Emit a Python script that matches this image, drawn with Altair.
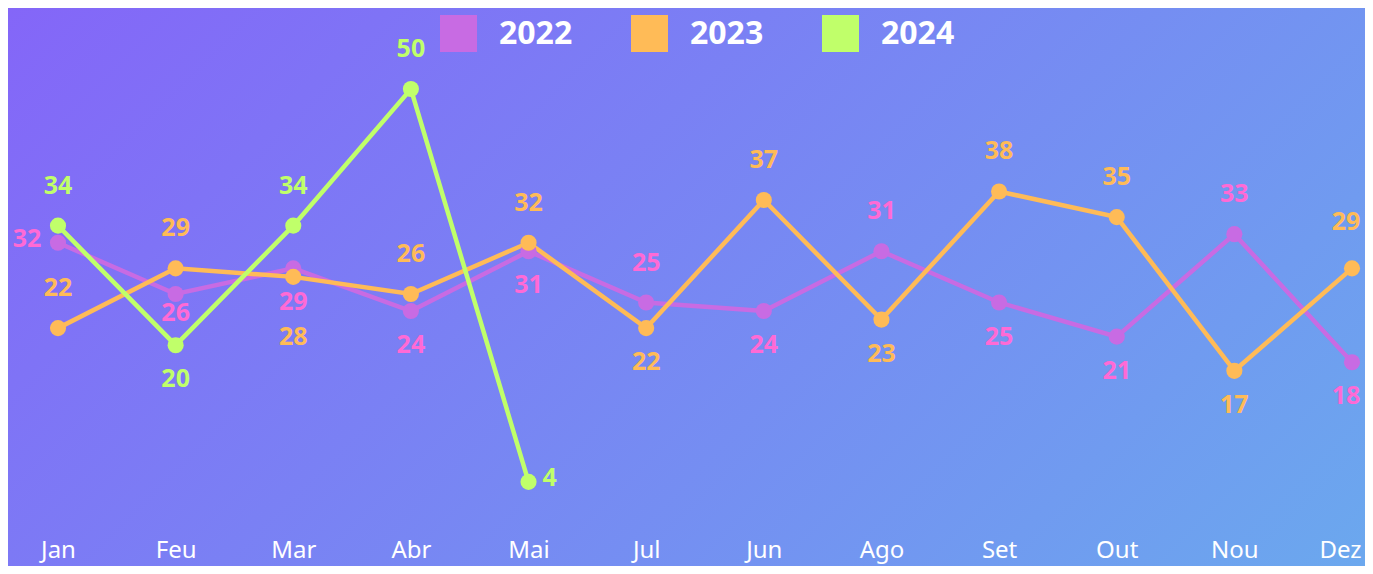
import altair as alt
import pandas as pd

months = ["Jan", "Feu", "Mar", "Abr", "Mai", "Jul", "Jun", "Ago", "Set", "Out", "Nou", "Dez"]
years = ["2022", "2023", "2024"]
v2022 = [32, 26, 29, 24, 31, 25, 24, 31, 25, 21, 33, 18]
v2023 = [22, 29, 28, 26, 32, 22, 37, 23, 38, 35, 17, 29]
v2024 = [34, 20, 34, 50, 4]
# label placement per point: t=above, b=below, bn=just below, bb=far below, l=left, r=right,
# te/be = above/below at the right edge (nudged inward)
pos2022 = ["l", "bn", "b", "b", "b", "t", "b", "t", "b", "b", "t", "be"]
pos2023 = ["t", "t", "bb", "t", "t", "b", "t", "b", "t", "t", "b", "te"]
pos2024 = ["t", "b", "t", "t", "r"]

line_colors = ["#c86be3", "#ffbb57", "#c0ff6a"]
label_colors = ["#ff6ad5", "#ffbb57", "#c0ff6a"]

rows = []
for yr, vals, poss in [("2022", v2022, pos2022), ("2023", v2023, pos2023), ("2024", v2024, pos2024)]:
    for m, v, p in zip(months, vals, poss):
        rows.append({"month": m, "year": yr, "value": v, "pos": p})
df = pd.DataFrame(rows)

W, H = 1294, 427
PL, PT, PR, PB = 50, 81, 13, 50

x_enc = alt.X("month:N", sort=months, scale=alt.Scale(type="point", padding=0),
              axis=alt.Axis(title=None, labelAngle=0, domain=False, ticks=False, grid=False,
                            labelFontSize=24, labelColor="white", labelFont="Noto Sans",
                            labelPadding=22, labelFontWeight="normal", zindex=2,
                            labelOffset={"condition": {"test": "datum.value == 'Dez'", "value": -12}, "value": 0}))
y_enc = alt.Y("value:Q", scale=alt.Scale(domain=[0, 50], nice=False), axis=None)

grad = alt.Gradient(
    gradient="linear",
    stops=[alt.GradientStop(color="#8466f8", offset=0), alt.GradientStop(color="#6ba8ee", offset=1)],
    x1=0, y1=0, x2=1.208, y2=0.497,
)

bg = alt.Chart(pd.DataFrame({"a": [0]})).mark_rect(fill=grad).encode(
    x=alt.value(-PL), x2=alt.value(W + PR), y=alt.value(-PT), y2=alt.value(H + PB)
)

base = alt.Chart(df).encode(x=x_enc, y=y_enc)

lines = base.mark_line(strokeWidth=4.5).encode(
    color=alt.Color("year:N", scale=alt.Scale(domain=years, range=line_colors), legend=None),
    order=alt.Order("year:N"),
)
points = base.mark_circle(size=260, opacity=1).encode(
    color=alt.Color("year:N", scale=alt.Scale(domain=years, range=line_colors),
                    legend=alt.Legend(title=None, orient="none", legendX=382, legendY=-74,
                                      direction="horizontal", symbolType="square",
                                      symbolSize=1369, symbolStrokeWidth=0,
                                      labelFontSize=32, labelFont="Noto Sans",
                                      labelFontWeight="bold", labelColor="white",
                                      labelOffset=22, columnPadding=58,
                                      symbolOpacity=1, zindex=2))
)

label_color = alt.Color("year:N", scale=alt.Scale(domain=years, range=label_colors), legend=None)

offsets = {"t": (0, -40), "b": (0, 34), "bn": (0, 19), "bb": (0, 60), "l": (-31, -4), "r": (21, -4),
           "te": (-6, -46), "be": (-6, 34)}
texts = []
for p, (dx, dy) in offsets.items():
    texts.append(
        base.transform_filter(alt.datum.pos == p).mark_text(
            dx=dx, dy=dy, fontSize=25, font="Noto Sans", fontWeight="bold", baseline="middle", align="center"
        ).encode(text="value:Q", color=label_color)
    )

chart = alt.layer(bg, lines, points, *texts).properties(
    width=W, height=H,
    padding={"left": PL, "top": PT, "right": PR, "bottom": PB},
    autosize=alt.AutoSizeParams(type="none"),
).configure_view(stroke=None).resolve_scale(color="independent")

chart.save("out.html", embed_options={"renderer": "svg", "actions": False})
